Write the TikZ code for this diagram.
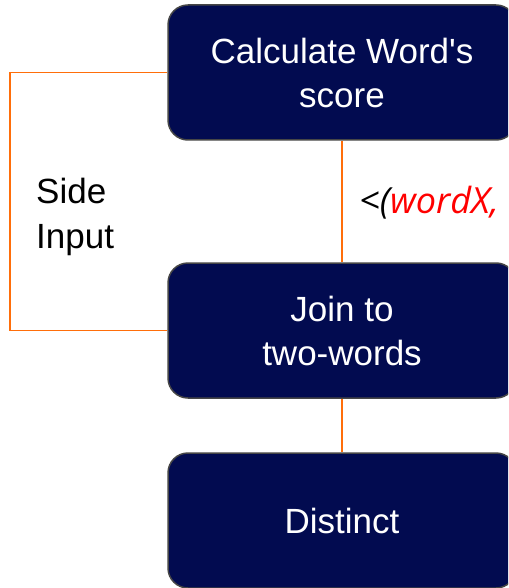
\documentclass[tikz,border=0pt]{standalone}
\usepackage{fontspec}
\setmainfont{Liberation Sans}
\newfontfamily\labelfont{Open Sans}
\definecolor{navy}{RGB}{2,11,80}
\definecolor{edgegrey}{RGB}{70,70,70}
\definecolor{flow}{RGB}{255,110,10}
\definecolor{lblred}{RGB}{255,0,0}
\begin{document}
\begin{tikzpicture}[x=1pt,y=-1pt,
  stepbox/.style={draw=edgegrey, line width=1.5pt, fill=navy, rounded corners=20pt,
    minimum width=348pt, minimum height=135pt, inner sep=0pt, text=white,
    font=\fontsize{35}{44}\selectfont, align=center},
  flowline/.style={draw=flow, line width=1.6pt},
  sidetext/.style={font=\fontsize{35}{45}\selectfont, align=left, inner sep=0pt}]
\clip (0,0) rectangle (508,588);
\fill[white] (0,0) rectangle (508,588);
\coordinate (sidex) at (10,0);
\node[stepbox] (c) at (342,72.5) {Calculate Word\textquotesingle s\\score};
\node[stepbox] (j) at (342,330.5) {Join to\\two-words};
\node[stepbox] (d) at (342,520.5) {Distinct};
\draw[flowline] (c.south) -- (j.north);
\draw[flowline] (j.south) -- (d.north);
\draw[flowline] (c.west) -- (c.west -| sidex) |- (j.west);
\node[sidetext, anchor=base west] (side1) at (36,203) {Side};
\node[sidetext, anchor=base west] (side2) at (36,248) {Input};
\node[anchor=base west, inner sep=0pt, font=\labelfont\itshape\fontsize{36}{40}\selectfont] (lbl) at (359,213) {<(\textcolor{lblred}{wordX,}};
\end{tikzpicture}
\end{document}
